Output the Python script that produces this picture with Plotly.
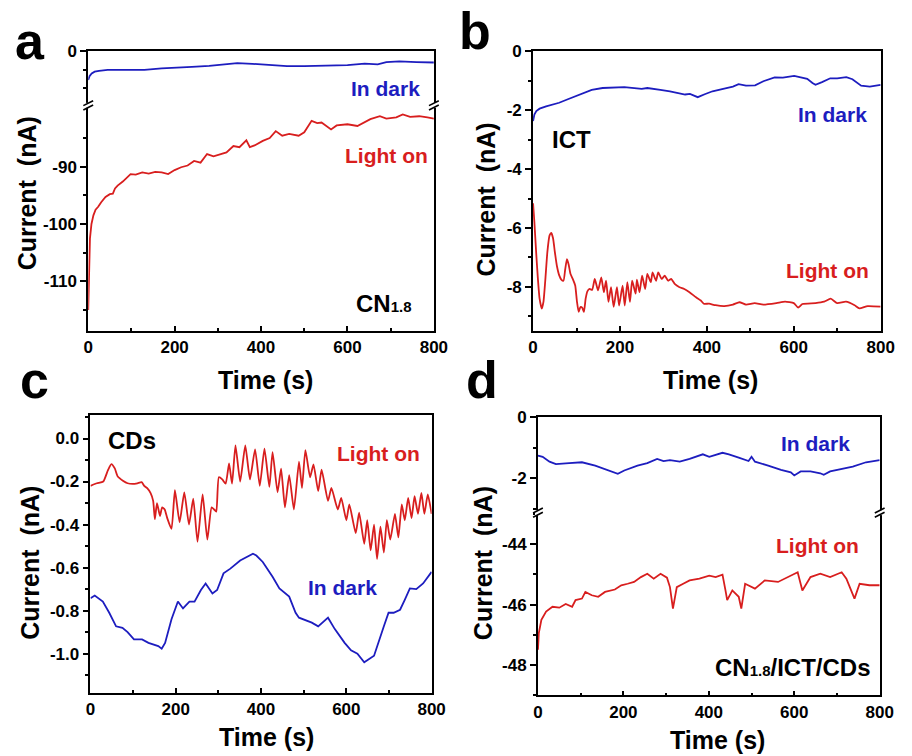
import plotly.graph_objects as go

# ---------------- data ----------------
time_ticks = [0, 200, 400, 600, 800]
time_minor = [100, 300, 500, 700]

# panel a (CN1.8)
a_dark = [(0, -1.55), (3, -1.35), (8, -1.2), (15, -1.1), (25, -1.05), (45, -1.0), (70, -1.0),
          (100, -0.98), (130, -1.0), (170, -0.92), (200, -0.9), (240, -0.84), (280, -0.78),
          (320, -0.68), (345, -0.63), (380, -0.67), (420, -0.75), (460, -0.8), (500, -0.8),
          (550, -0.79), (600, -0.74), (640, -0.66), (670, -0.7), (690, -0.58), (720, -0.54),
          (760, -0.58), (800, -0.6)]
a_light = [(0, -115), (1, -111), (2, -106), (4, -102.5), (7.5, -100), (12, -98.5), (17, -97.5),
           (23, -97), (30, -96.2), (40, -95.3), (50, -94.8), (57, -94.7), (62, -93.8), (68, -93.3),
           (80, -92.6), (90, -91.8), (98, -91.3), (110, -91.4), (125, -91), (140, -91.2),
           (155, -90.9), (170, -91), (185, -91.3), (200, -90.6), (215, -90.1), (230, -89.8),
           (245, -89), (260, -89.3), (275, -87.8), (290, -88.2), (306, -87.8), (320, -87.5),
           (336, -86.4), (350, -86.6), (366, -85.4), (374, -86.6), (385, -86.3), (404, -85.5),
           (420, -85), (434, -83.8), (449, -84.6), (465, -84.3), (487, -84.6), (500, -84.0),
           (517, -82.0), (530, -82.4), (540, -82.3), (552, -82.9), (562, -83.5), (575, -82.8),
           (600, -82.6), (623, -82.9), (640, -82.3), (653, -81.7), (675, -81.2), (690, -81.6),
           (713, -81.4), (728, -80.9), (745, -81.3), (766, -81.2), (785, -81.4), (800, -81.6)]

# panel b (ICT)
b_dark = [(0, -2.37), (3, -2.15), (7.5, -2.03), (15, -1.95), (30, -1.87), (45, -1.8), (60, -1.75),
          (80, -1.63), (98, -1.53), (115, -1.42), (135, -1.31), (160, -1.25), (188, -1.22),
          (210, -1.22), (233, -1.25), (250, -1.28), (263, -1.25), (280, -1.27), (293, -1.31),
          (315, -1.36), (338, -1.42), (350, -1.47), (361, -1.45), (370, -1.5), (379, -1.56),
          (395, -1.46), (413, -1.36), (440, -1.27), (460, -1.2), (473, -1.12), (490, -1.17),
          (511, -1.16), (530, -1.02), (556, -0.89), (575, -0.9), (601, -0.84), (615, -0.88),
          (631, -0.94), (643, -1.08), (650, -1.14), (665, -1.05), (684, -0.92), (700, -0.92),
          (721, -0.88), (735, -0.95), (755, -1.17), (775, -1.2), (800, -1.14)]
b_light = [(0, -5.16), (3, -5.8), (7, -6.8), (11, -7.7), (15, -8.4), (20, -8.74), (24, -8.5),
           (28, -7.8), (33, -6.8), (38, -6.25), (42, -6.17), (46, -6.35), (50, -6.8), (55, -7.3),
           (60, -7.6), (65, -7.75), (70, -7.79), (74, -7.4), (78, -7.06), (82, -7.25), (86, -7.55),
           (92, -7.75), (97, -7.95), (101, -8.5), (105, -8.85), (109, -8.68), (113, -8.7),
           (117, -8.85), (121, -8.4), (125, -8.15), (130, -8.07), (136, -8.1), (142, -7.73),
           (149.5, -8.12), (157, -7.68), (163, -8.18), (168, -7.79), (173.5, -8.51), (179.5, -8.01),
           (185.5, -8.68), (193, -8.01), (198, -8.63), (206, -7.96), (211, -8.63), (217, -7.84),
           (223, -8.51), (228, -7.79), (236, -8.23), (239, -7.75), (245, -8.18), (251, -7.62),
           (258, -8.07), (263, -7.56), (271, -7.84), (275, -7.51), (283, -7.79), (288, -7.51),
           (296, -7.73), (303, -7.62), (311, -7.79), (318, -7.73), (326, -7.9), (337, -8.01),
           (348, -8.07), (360, -8.18), (375, -8.35), (386, -8.46), (393, -8.57), (405, -8.57),
           (420, -8.62), (440, -8.65), (460, -8.6), (475, -8.52), (490, -8.6), (510, -8.55),
           (530, -8.6), (560, -8.55), (580, -8.5), (600, -8.55), (610, -8.7), (620, -8.58),
           (650, -8.55), (670, -8.5), (685, -8.4), (700, -8.55), (720, -8.5), (740, -8.62),
           (751, -8.73), (770, -8.65), (800, -8.67)]

# panel c (CDs)
c_light = [(0, -0.22), (15, -0.208), (30, -0.2), (41, -0.147), (49, -0.119), (57, -0.139),
           (64, -0.177), (76, -0.196), (87, -0.208), (99, -0.211), (110, -0.208), (120, -0.203),
           (126, -0.22), (133, -0.231), (141, -0.254), (147, -0.29), (151, -0.375), (156, -0.30),
           (163, -0.36), (168, -0.32), (174, -0.33), (180, -0.37), (190, -0.42), (198, -0.24),
           (209, -0.39), (220, -0.25), (231, -0.40), (241, -0.28), (251, -0.48), (263, -0.26),
           (274, -0.47), (284, -0.32), (290, -0.33), (295, -0.34), (301, -0.18), (309, -0.19),
           (317, -0.21), (325, -0.116), (332, -0.21), (340, -0.032), (351, -0.2), (363, -0.032),
           (374, -0.19), (386, -0.05), (397, -0.22), (408, -0.047), (419.5, -0.225), (427, -0.063),
           (438.7, -0.25), (447, -0.14), (456, -0.32), (466, -0.17), (477, -0.33), (489, -0.107),
           (496, -0.23), (504, -0.054), (515, -0.18), (523, -0.12), (534, -0.245), (542, -0.145),
           (557, -0.29), (565, -0.23), (580, -0.33), (588, -0.276), (600, -0.38), (607, -0.306),
           (622, -0.44), (630, -0.345), (642, -0.49), (649, -0.38), (657, -0.52), (665, -0.40),
           (672, -0.56), (680, -0.41), (688, -0.53), (695, -0.38), (703, -0.47), (714, -0.35),
           (722, -0.46), (730, -0.306), (737, -0.38), (745, -0.276), (753, -0.37), (760, -0.268),
           (768, -0.35), (776, -0.253), (783, -0.35), (791, -0.26), (800, -0.35)]
c_dark = [(0, -0.743), (10, -0.73), (29, -0.758), (44, -0.81), (60, -0.873), (75, -0.88),
          (87, -0.9), (102, -0.934), (121, -0.934), (136, -0.95), (159, -0.965), (167, -0.977),
          (175, -0.95), (190, -0.84), (205, -0.758), (217, -0.79), (232, -0.758), (244, -0.758),
          (259, -0.704), (270, -0.674), (286, -0.72), (297, -0.704), (312, -0.627), (328, -0.605),
          (351, -0.567), (381, -0.536), (389, -0.544), (404, -0.574), (427, -0.643), (443, -0.697),
          (466, -0.735), (481, -0.81), (489, -0.833), (519, -0.856), (534, -0.873), (546, -0.85),
          (557, -0.833), (573, -0.886), (596, -0.95), (611, -0.985), (626, -1.0), (642, -1.04),
          (653, -1.024), (665, -1.01), (688, -0.873), (699, -0.81), (711, -0.81), (726, -0.796),
          (737, -0.75), (749, -0.697), (764, -0.70), (780, -0.674), (800, -0.62)]

# panel d (CN1.8/ICT/CDs)
d_dark = [(0, -1.26), (11, -1.3), (27, -1.46), (42, -1.54), (73, -1.51), (103, -1.48), (134, -1.59),
          (164, -1.73), (187, -1.86), (202, -1.75), (233, -1.59), (256, -1.51), (279, -1.37),
          (294, -1.44), (309, -1.41), (332, -1.46), (355, -1.37), (386, -1.22), (401, -1.3),
          (432, -1.17), (447, -1.22), (470, -1.33), (493, -1.44), (500, -1.3), (508, -1.46),
          (539, -1.59), (569, -1.73), (592, -1.81), (600, -1.91), (615, -1.78), (638, -1.78),
          (661, -1.84), (669, -1.89), (684, -1.78), (707, -1.7), (737, -1.62), (768, -1.48),
          (800, -1.41)]
d_light = [(0, -47.49), (2, -46.94), (8, -46.5), (19, -46.23), (34, -46.07), (50, -46.1),
           (65, -45.98), (80, -46.07), (88, -45.85), (103, -45.8), (111, -45.58), (126, -45.69),
           (141, -45.74), (157, -45.58), (180, -45.5), (195, -45.36), (210, -45.31), (225, -45.25),
           (241, -45.09), (256, -44.98), (271, -45.14), (287, -44.98), (302, -45.11), (309, -45.42),
           (316, -46.13), (325, -45.42), (340, -45.31), (355, -45.2), (378, -45.14), (401, -45.04),
           (416, -45.09), (432, -45.01), (439, -45.53), (443, -45.85), (455, -45.53), (470, -45.74),
           (476, -46.13), (485, -45.31), (508, -45.47), (531, -45.2), (562, -45.25), (592, -45.04),
           (608, -44.93), (619, -45.53), (638, -45.09), (661, -44.98), (684, -45.09), (711, -44.93),
           (722, -45.14), (741, -45.8), (753, -45.31), (776, -45.36), (800, -45.36)]

BLUE = "#1d1dbf"
RED = "#d81e1e"
FONT = "Liberation Sans, Arial, sans-serif"

W, H = 912, 756


def fx(p):
    return p / W


def fy(p):
    return 1 - p / H


fig = go.Figure()


def add_line(pts, color, xa, ya, spline=False):
    t = [p[0] for p in pts]
    v = [p[1] for p in pts]
    fig.add_trace(go.Scatter(x=t, y=v, mode="lines", xaxis=xa, yaxis=ya,
                             line=dict(color=color, width=1.8,
                                       shape="spline" if spline else "linear",
                                       smoothing=0.5),
                             showlegend=False, hoverinfo="skip"))


add_line(a_dark, BLUE, "x", "y")
add_line(a_light, RED, "x2", "y2")
add_line(b_dark, BLUE, "x3", "y3")
add_line(b_light, RED, "x3", "y3", spline=True)
add_line(c_light, RED, "x4", "y4", spline=True)
add_line(c_dark, BLUE, "x4", "y4")
add_line(d_dark, BLUE, "x5", "y5")
add_line(d_light, RED, "x6", "y6")

tickfont = dict(family=FONT, size=17, color="black", weight="bold")
LW = 1.8


def xaxis(left, right, anchor, mode):
    d = dict(domain=[fx(left), fx(right)], anchor=anchor, range=[0, 800],
             showgrid=False, zeroline=False, showline=True, linecolor="black",
             linewidth=LW, fixedrange=True)
    if mode == "top":
        d.update(side="top", mirror=False, ticks="", showticklabels=False)
    else:
        d.update(mirror=(mode == "full"), ticks="inside", ticklen=5, tickwidth=1.5,
                 tickcolor="black", tickvals=time_ticks, ticktext=[str(v) for v in time_ticks],
                 tickfont=tickfont,
                 minor=dict(tickvals=time_minor, ticks="inside", ticklen=3,
                            tickwidth=1.5, tickcolor="black"))
    return d


def yaxis(top, bottom, anchor, rng, major, minor, fmt=None):
    d = dict(domain=[fy(bottom), fy(top)], anchor=anchor, range=rng,
             showgrid=False, zeroline=False, showline=True, linecolor="black",
             linewidth=LW, mirror=True, ticks="outside", ticklen=6, tickwidth=1.5,
             tickcolor="black", tickvals=major, tickfont=tickfont, fixedrange=True,
             minor=dict(tickvals=minor, ticks="outside", ticklen=3.5, tickwidth=1.5,
                        tickcolor="black"))
    if fmt:
        d["ticktext"] = [fmt.format(v) for v in major]
    else:
        d["ticktext"] = [str(v) for v in major]
    return d


# panel a geometry
aL, aR, aT, aBr, aB = 85, 438, 43, 97.5, 326
# panel b
bL, bR, bT, bB = 539.3, 894.3, 42.7, 326
# panel c
cL, cR, cT, cB = 87.3, 435.7, 411.3, 692
# panel d
dL, dR, dT, dBr, dB = 544.3, 893.3, 413, 509.7, 694.7

fig.update_layout(
    width=W, height=H, margin=dict(l=0, r=0, t=0, b=0),
    paper_bgcolor="white", plot_bgcolor="white", showlegend=False,
    xaxis=xaxis(aL, aR, "y", "top"),
    yaxis=yaxis(aT, aBr, "x", [-2.93, 0], [0], [-1, -2]),
    xaxis2=xaxis(aL, aR, "y2", "bottom"),
    yaxis2=yaxis(aBr, aB, "x2", [-118.7, -79.3], [-110, -100, -90], [-115, -105, -95, -85]),
    xaxis3=xaxis(bL, bR, "y3", "full"),
    yaxis3=yaxis(bT, bB, "x3", [-9.5, 0], [-8, -6, -4, -2, 0], [-9, -7, -5, -3, -1]),
    xaxis4=xaxis(cL, cR, "y4", "full"),
    yaxis4=yaxis(cT, cB, "x4", [-1.182, 0.1075], [-1.0, -0.8, -0.6, -0.4, -0.2, 0.0],
                 [-1.1, -0.9, -0.7, -0.5, -0.3, -0.1, 0.1], fmt="{:.1f}"),
    xaxis5=xaxis(dL, dR, "y5", "top"),
    yaxis5=yaxis(dT, dBr, "x5", [-3.13, 0], [-2, 0], [-1, -3]),
    xaxis6=xaxis(dL, dR, "y6", "bottom"),
    yaxis6=yaxis(dBr, dB, "x6", [-49.0, -42.96], [-48, -46, -44], [-49, -47, -45, -43]),
)

# break marks
shapes = []
for (bx, by) in [(aL, aBr), (aR, aBr), (dL, dBr), (dR, dBr)]:
    shapes.append(dict(type="rect", xref="paper", yref="paper",
                       x0=fx(bx - 3), x1=fx(bx + 3), y0=fy(by + 2.5), y1=fy(by - 2.5),
                       fillcolor="white", line=dict(width=0), layer="above"))
    for off in (-2.2, 2.2):
        shapes.append(dict(type="line", xref="paper", yref="paper",
                           x0=fx(bx - 5), y0=fy(by + off + 2.5), x1=fx(bx + 5), y1=fy(by + off - 2.5),
                           line=dict(color="black", width=1.6), layer="above"))
fig.update_layout(shapes=shapes)

ann = []


def text(x, y, s, size, color="black", xanchor="center", angle=0):
    ann.append(dict(x=fx(x), y=fy(y), xref="paper", yref="paper", text=s, showarrow=False,
                    xanchor=xanchor, yanchor="middle", textangle=angle,
                    font=dict(family=FONT, size=size, color=color, weight="bold")))


# panel letters
text(8, 32, "a", 52, xanchor="left")
text(462, 22, "b", 52, xanchor="left")
text(13, 375, "c", 52, xanchor="left")
text(469, 375, "d", 52, xanchor="left")

# axis titles
title_y = "Current\u00a0\u00a0(nA)"
text(22, 187, title_y, 25, angle=-90)
text(491, 193, title_y, 25, angle=-90)
text(26, 560, title_y, 25, angle=-90)
text(488, 561, title_y, 25, angle=-90)
text(266, 375, "Time (s)", 25)
text(721, 375, "Time (s)", 25)
text(267, 737, "Time (s)", 25)
text(728, 740, "Time (s)", 25)

# in-plot labels
sub = "<span style='font-size:15px'>1.8</span>"
text(389, 80, "In dark", 21, BLUE)
text(390, 148, "Light on", 21, RED)
text(387, 298, "CN" + sub, 24)
text(845, 107, "In dark", 21, BLUE)
text(579, 132, "ICT", 24)
text(840, 265, "Light on", 21, RED)
text(130, 437, "CDs", 24)
text(381, 450, "Light on", 21, RED)
text(345, 585, "In dark", 21, BLUE)
text(828, 440, "In dark", 21, BLUE)
text(830, 543, "Light on", 21, RED)
text(805, 666, "CN" + sub + "/ICT/CDs", 24)

fig.update_layout(annotations=ann)

fig.write_html("out.html")
